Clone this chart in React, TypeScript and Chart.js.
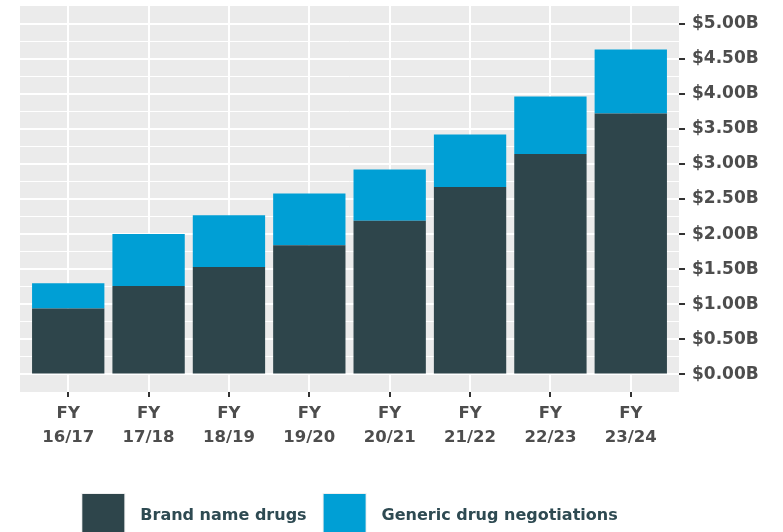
import React, { useEffect, useRef } from 'react';
import { Chart, registerables } from 'chart.js';

Chart.register(...registerables);

// ---- data ----
const fiscalYears = ['16/17', '17/18', '18/19', '19/20', '20/21', '21/22', '22/23', '23/24'];
const brandNameDrugs = [0.94, 1.26, 1.53, 1.84, 2.19, 2.67, 3.14, 3.72];
const genericDrugNegotiations = [0.36, 0.74, 0.74, 0.74, 0.73, 0.75, 0.82, 0.91];
const seriesLabels = ['Brand name drugs', 'Generic drug negotiations'];
const yTickValues = [0, 0.5, 1, 1.5, 2, 2.5, 3, 3.5, 4, 4.5, 5];
const yTickLabels = ['$0.00B', '$0.50B', '$1.00B', '$1.50B', '$2.00B', '$2.50B', '$3.00B', '$3.50B', '$4.00B', '$4.50B', '$5.00B'];

const COLORS = {
  brand: '#2E454B',
  generic: '#009FD5',
  panel: '#EBEBEB',
  grid: '#FFFFFF',
  tick: '#333333',
  axisText: '#4D4D4D',
  legendText: '#2E4A52',
};

const FONT_FAMILY = '"DejaVu Sans", "Liberation Sans", Arial, sans-serif';

const isMajor = (v: number) => yTickValues.some((t) => Math.abs(t - v) < 1e-9);

const allYTicks: number[] = [];
yTickValues.forEach((v, i) => {
  allYTicks.push(v);
  if (i < yTickValues.length - 1) allYTicks.push((v + yTickValues[i + 1]) / 2);
});

const panelPlugin = {
  id: 'panelBg',
  beforeDraw(chart: any) {
    const { ctx, chartArea } = chart;
    ctx.save();
    ctx.fillStyle = COLORS.panel;
    ctx.fillRect(chartArea.left, chartArea.top, chartArea.right - chartArea.left, chartArea.bottom - chartArea.top);
    ctx.restore();
  },
};

const legendPlugin = {
  id: 'ggLegend',
  afterDraw(chart: any) {
    const { ctx, chartArea } = chart;
    ctx.save();
    ctx.font = `bold 16px ${FONT_FAMILY}`;
    const boxW = 44;
    const boxH = 40;
    const textGap = 15;
    const itemGap = 16;
    const items = chart.data.datasets.map((ds: any) => ({
      label: ds.label as string,
      color: ds.backgroundColor as string,
      w: ctx.measureText(ds.label).width,
    }));
    const total =
      items.reduce((s: number, it: any) => s + boxW + textGap + it.w, 0) + itemGap * (items.length - 1);
    let x = (chartArea.left + chartArea.right) / 2 - total / 2;
    const top = chartArea.bottom + 101;
    for (const it of items) {
      ctx.fillStyle = '#EFEFEF';
      ctx.fillRect(x, top, boxW, boxH);
      ctx.fillStyle = it.color;
      ctx.fillRect(x + 1, top + 1, boxW - 2, boxH - 2);
      ctx.fillStyle = COLORS.legendText;
      ctx.textBaseline = 'middle';
      ctx.textAlign = 'left';
      ctx.fillText(it.label, x + boxW + textGap, top + 23);
      x += boxW + textGap + it.w + itemGap;
    }
    ctx.restore();
  },
};

export default function App() {
  const canvasRef = useRef<HTMLCanvasElement | null>(null);

  useEffect(() => {
    const canvas = canvasRef.current;
    if (!canvas) return;
    const chart = new Chart(canvas, {
      type: 'bar',
      data: {
        datasets: [
          {
            label: seriesLabels[0],
            data: brandNameDrugs.map((v, i) => ({ x: i + 1, y: v })),
            backgroundColor: COLORS.brand,
            borderWidth: 0,
            barPercentage: 0.9,
            categoryPercentage: 1,
          },
          {
            label: seriesLabels[1],
            data: genericDrugNegotiations.map((v, i) => ({ x: i + 1, y: v })),
            backgroundColor: COLORS.generic,
            borderWidth: 0,
            barPercentage: 0.9,
            categoryPercentage: 1,
          },
        ],
      },
      options: {
        responsive: false,
        animation: false,
        devicePixelRatio: 1,
        layout: { padding: { left: 20, top: 6, right: 0, bottom: 0 } },
        plugins: {
          legend: { display: false },
          tooltip: { enabled: false },
        },
        scales: {
          x: {
            type: 'linear',
            min: 0.4,
            max: 8.6,
            bounds: 'data',
            offset: false,
            stacked: true,
            border: { display: false },
            grid: {
              offset: false,
              color: COLORS.grid,
              lineWidth: 2,
              tickColor: COLORS.tick,
              tickWidth: 2,
              tickLength: 5,
            },
            ticks: {
              stepSize: 1,
              autoSkip: false,
              maxRotation: 0,
              minRotation: 0,
              padding: 5,
              color: COLORS.axisText,
              font: { family: FONT_FAMILY, size: 16.5, weight: 'bold', lineHeight: 1.43 },
              callback: (value: any) => {
                const idx = Math.round(Number(value)) - 1;
                return ['FY', fiscalYears[idx] ?? ''];
              },
            },
            afterBuildTicks: (scale: any) => {
              scale.ticks = fiscalYears.map((_, i) => ({ value: i + 1 }));
            },
            afterFit: (scale: any) => {
              scale.height = 140;
              scale.paddingLeft = 0;
              scale.paddingRight = 0;
            },
          },
          y: {
            type: 'linear',
            position: 'right',
            min: -0.25,
            max: 5.25,
            bounds: 'data',
            stacked: true,
            border: { display: false },
            grid: {
              color: COLORS.grid,
              lineWidth: (ctx: any) => (isMajor(ctx.tick?.value) ? 2 : 1),
              tickColor: (ctx: any) => (isMajor(ctx.tick?.value) ? COLORS.tick : 'rgba(0,0,0,0)'),
              tickWidth: 2,
              tickLength: 6,
            },
            ticks: {
              stepSize: 0.25,
              autoSkip: false,
              padding: 7,
              color: COLORS.axisText,
              font: { family: FONT_FAMILY, size: 17, weight: 'bold' },
              callback: (value: any) => {
                const idx = yTickValues.findIndex((t) => Math.abs(t - Number(value)) < 1e-9);
                return idx >= 0 ? yTickLabels[idx] : '';
              },
            },
            afterBuildTicks: (scale: any) => {
              scale.ticks = allYTicks.map((v) => ({ value: v }));
            },
            afterFit: (scale: any) => {
              scale.width = 104;
              scale.paddingTop = 0;
              scale.paddingBottom = 0;
            },
          },
        },
      } as any,
      plugins: [panelPlugin, legendPlugin],
    });
    return () => chart.destroy();
  }, []);

  return (
    <div style={{ position: 'fixed', left: 0, top: 0, width: 783, height: 532, background: '#FFFFFF' }}>
      <canvas ref={canvasRef} width={783} height={532} style={{ display: 'block' }} />
    </div>
  );
}
